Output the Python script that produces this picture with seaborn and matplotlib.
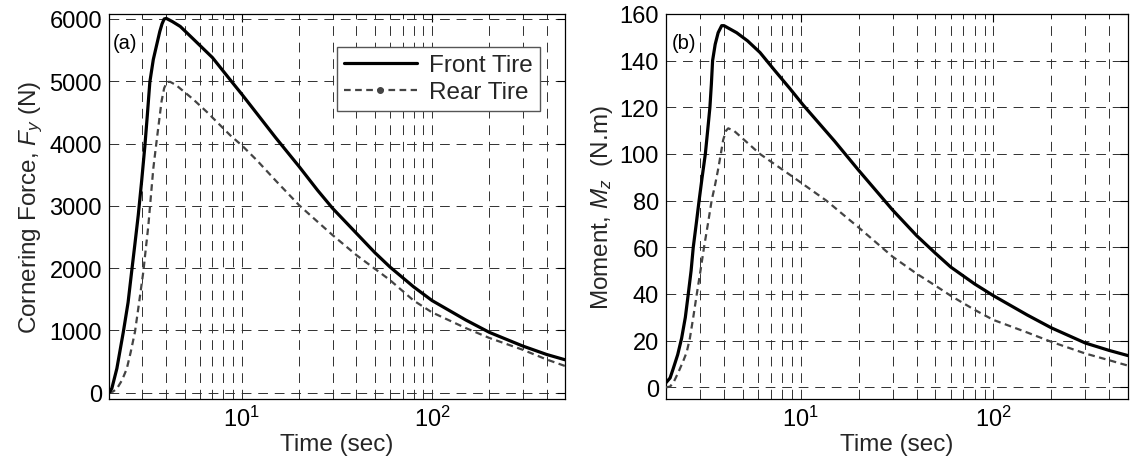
import numpy as np
import pandas as pd
import matplotlib
matplotlib.use("Agg")
import matplotlib.pyplot as plt
import seaborn as sns
from matplotlib.lines import Line2D
from matplotlib.ticker import LogLocator, NullFormatter

# ---------------- data ----------------
# (a) Cornering force Fy (N)
fy_front_t = [2.0, 2.07, 2.2, 2.38, 2.52, 2.63, 2.74, 2.85, 2.97, 3.09, 3.18, 3.28, 3.42, 3.56,
              3.7, 3.8, 3.9, 4.0, 4.3, 4.74, 5.5, 7.0, 8.8, 10, 12, 15, 20, 25, 30, 40, 50, 60,
              80, 100, 150, 200, 300, 400, 500]
fy_front = [0, 70, 390, 980, 1450, 1940, 2400, 2850, 3400, 3970, 4450, 4990, 5350, 5580,
            5800, 5920, 6000, 6010, 5960, 5880, 5690, 5380, 5000, 4790, 4480, 4100, 3630, 3250,
            2960, 2560, 2250, 2020, 1700, 1480, 1170, 970, 750, 615, 530]

fy_rear_t = [2.0, 2.1, 2.2, 2.34, 2.48, 2.6, 2.74, 2.88, 3.03, 3.12, 3.22, 3.32, 3.42, 3.53,
             3.64, 3.78, 3.9, 4.04, 4.2, 4.5, 5.5, 6.53, 8.7, 10, 12, 15, 20, 25, 30, 40, 50,
             60, 80, 100, 150, 200, 300, 400, 500]
fy_rear = [0, 20, 65, 200, 385, 650, 980, 1450, 1940, 2300, 2680, 3150, 3600, 3950,
           4280, 4680, 4890, 4990, 4990, 4940, 4720, 4510, 4130, 3970, 3730, 3410, 3010, 2745,
           2530, 2210, 1990, 1810, 1480, 1290, 1040, 880, 690, 535, 430]

# (b) Moment Mz (N.m)
mz_front_t = [2.0, 2.1, 2.18, 2.3, 2.41, 2.52, 2.61, 2.7, 2.77, 2.87, 2.97, 3.08, 3.2, 3.29,
              3.38, 3.44, 3.49, 3.6, 3.73, 3.89, 4.0, 4.65, 5.3, 6.15, 7.3, 8.8, 10.3, 15, 20,
              30, 40, 50, 60, 80, 100, 150, 200, 300, 400, 500]
mz_front = [2, 4, 8, 14, 21, 30, 40, 50, 60, 70, 80, 90, 100, 110,
            120, 130, 140, 147, 152, 155, 155, 152, 148.5, 143.5, 136, 128, 121, 105.5, 93,
            76, 65, 57.5, 51.6, 44.3, 39.3, 31, 25.5, 19, 15.8, 13.6]

mz_rear_t = [2.0, 2.1, 2.2, 2.32, 2.45, 2.56, 2.66, 2.77, 2.89, 3.02, 3.15, 3.3, 3.45, 3.6,
             3.72, 3.85, 3.96, 4.1, 4.21, 4.5, 6.15, 9.0, 13.6, 20, 30, 40, 50, 60, 80, 100,
             150, 200, 300, 400, 500]
mz_rear = [0, 0.3, 2.5, 6.5, 11, 15, 21, 30, 40, 50, 60, 70, 80, 87,
           93, 100, 106, 110, 111, 110, 100, 90.5, 80, 68.5, 56, 48.7, 43.6, 39.3, 33.2, 28.9,
           23.5, 19.5, 14.5, 11.6, 9.3]

series_labels = ["Front Tire", "Rear Tire"]
x_label = "Time (sec)"
y_labels = ["Cornering Force, $F_y$ (N)", "Moment, $M_z$  (N.m)"]
panel_tags = ["(a)", "(b)"]
fy_ticks = [0, 1000, 2000, 3000, 4000, 5000, 6000]
mz_ticks = [0, 20, 40, 60, 80, 100, 120, 140, 160]

# ---------------- style ----------------
sns.set_theme(style="white")
plt.rcParams["font.family"] = ["Liberation Sans", "DejaVu Sans"]
plt.rcParams["mathtext.fontset"] = "custom"
plt.rcParams["mathtext.rm"] = "Liberation Sans"
plt.rcParams["mathtext.it"] = "Liberation Sans:italic"
plt.rcParams["mathtext.bf"] = "Liberation Sans:bold"

FRONT_COLOR = "black"
REAR_COLOR = "#444444"
GRID_COLOR = "#303030"

fig = plt.figure(figsize=(11.3, 4.6), dpi=100)
ax1 = fig.add_axes([109 / 1130, 60 / 460, 456 / 1130, 385 / 460])
ax2 = fig.add_axes([666 / 1130, 60 / 460, 462 / 1130, 385 / 460])

panels = [
    (ax1, fy_front_t, fy_front, fy_rear_t, fy_rear, (-100, 6080), fy_ticks),
    (ax2, mz_front_t, mz_front, mz_rear_t, mz_rear, (-5, 160), mz_ticks),
]

for i, (ax, ft, fv, rt, rv, ylim, yticks) in enumerate(panels):
    df_f = pd.DataFrame({"t": ft, "v": fv})
    df_r = pd.DataFrame({"t": rt, "v": rv})
    sns.lineplot(data=df_r, x="t", y="v", ax=ax, color=REAR_COLOR, lw=1.6,
                 linestyle=(0, (3, 2)), sort=False, estimator=None, zorder=3)
    sns.lineplot(data=df_f, x="t", y="v", ax=ax, color=FRONT_COLOR, lw=2.3,
                 sort=False, estimator=None, zorder=4)
    ax.set_xscale("log")
    ax.set_xlim(2, 500)
    ax.set_ylim(*ylim)
    ax.set_yticks(yticks)
    ax.xaxis.set_minor_locator(LogLocator(base=10, subs=np.arange(2, 10)))
    ax.xaxis.set_minor_formatter(NullFormatter())
    ax.grid(True, which="major", axis="both", color=GRID_COLOR, lw=0.7, ls=(0, (10, 7)))
    ax.grid(True, which="minor", axis="x", color=GRID_COLOR, lw=0.7, ls=(0, (10, 7)))
    ax.set_axisbelow(True)
    ax.tick_params(axis="both", which="major", direction="in", length=6, width=0.8,
                   top=True, right=True, labelsize=17, colors="black", pad=5)
    ax.tick_params(axis="both", which="minor", direction="in", length=3, width=0.6,
                   top=True, right=True)
    for sp in ax.spines.values():
        sp.set_color("black")
        sp.set_linewidth(0.9)
    ax.set_xlabel(x_label, fontsize=17.5, labelpad=1)
    ax.set_ylabel(y_labels[i], fontsize=17.5, labelpad=3)
    ax.text(0.008 if i == 0 else 0.013, 0.925, panel_tags[i], transform=ax.transAxes,
            fontsize=14.5, ha="left", va="center", color="black")

handles = [
    Line2D([], [], color=FRONT_COLOR, lw=2.3),
    Line2D([], [], color=REAR_COLOR, lw=1.6, ls=(0, (3, 2)), marker="o", markersize=4),
]
leg = ax1.legend(handles, series_labels, loc="upper right", bbox_to_anchor=(0.945, 0.914),
                 fontsize=17.5, frameon=True, fancybox=False, handlelength=3.0,
                 borderpad=0.3, labelspacing=0.2, handletextpad=0.5, borderaxespad=0)
leg.get_frame().set_edgecolor("#555555")
leg.get_frame().set_linewidth(1.0)
leg.get_frame().set_alpha(1)

fig.savefig("out.png", dpi=100)
